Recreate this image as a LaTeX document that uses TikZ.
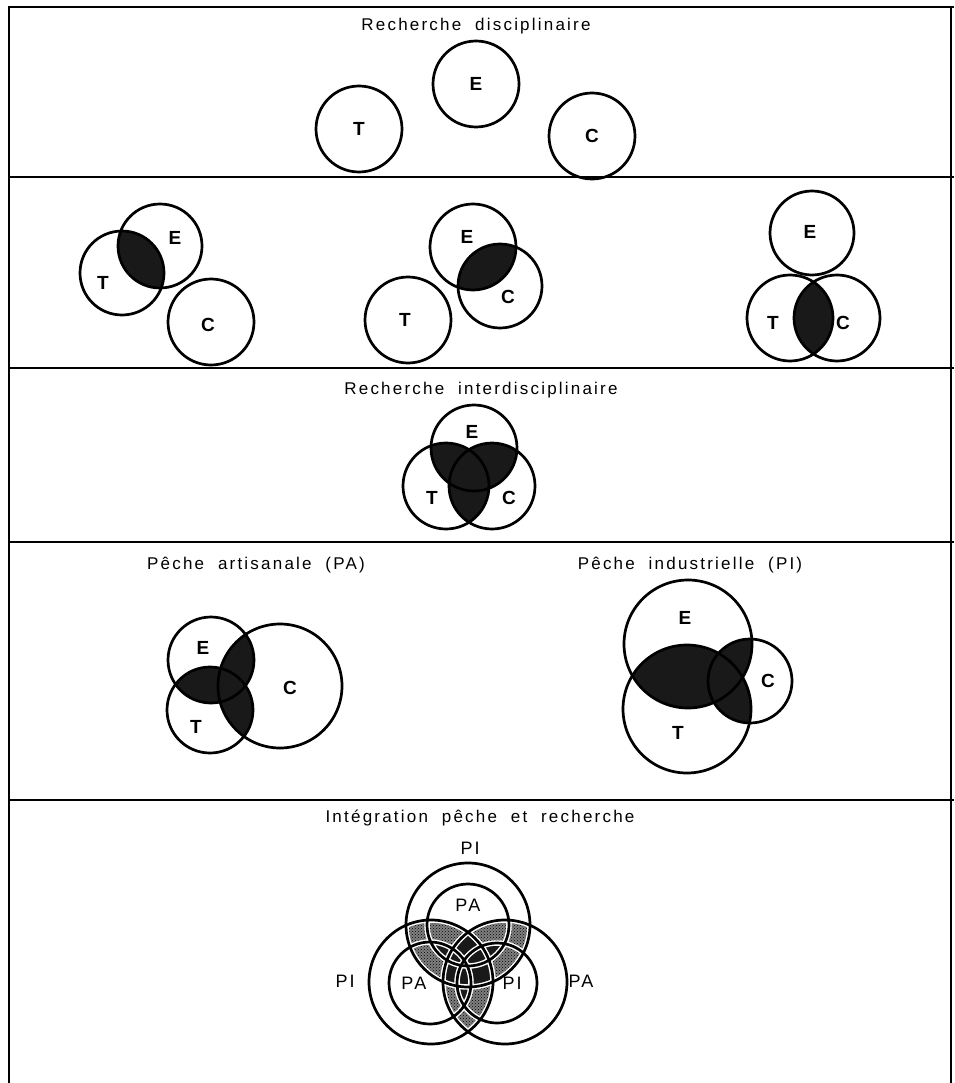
\documentclass[tikz,border=0pt]{standalone}
\usepackage{fontspec}
\setmainfont{Liberation Sans}
\newfontfamily\ttl[LetterSpace=13]{Liberation Sans}
\usetikzlibrary{patterns}
\begin{document}
\begin{tikzpicture}[x=1pt,y=-1pt,
  ring/.style={draw=black, line width=2.7pt},
  halo/.style={draw=white, line width=5.5pt},
  frame/.style={line width=2pt},
  title/.style={font=\ttl\fontsize{17}{19}\selectfont, inner sep=0pt},
  lbl/.style={font=\bfseries\fontsize{19}{21}\selectfont, inner sep=0pt},
  plbl/.style={font=\ttl\fontsize{18}{20}\selectfont, inner sep=0pt},
  dark/.style={fill=black!90},
  stip/.style={fill=black!50},
  stipdots/.style={pattern=crosshatch dots, pattern color=black}]
\useasboundingbox (0,0) rectangle (954,1083);

% ---------- frame ----------
\draw[frame] (9,1083) -- (9,7) -- (954,7);
\draw[frame] (951,7) -- (951,1083);
\draw[frame] (9,177) -- (954,177);
\draw[frame] (9,368) -- (954,368);
\draw[frame] (9,542) -- (954,542);
\draw[frame] (9,800) -- (954,800);

% ---------- panel 1 ----------
\node[title] (t1) at (476,26) {Recherche\ \ disciplinaire};
\draw[ring] (359,129) circle[radius=43pt];
\draw[ring] (476,84) circle[radius=43pt];
\draw[ring] (592,136) circle[radius=43pt];
\node[lbl] (p1T) at (359,129) {T};
\node[lbl] (p1E) at (476,84) {E};
\node[lbl] (p1C) at (592,136) {C};

% ---------- panel 2 ----------
% left group: E & T overlap
\begin{scope}\clip (160,246) circle[radius=42pt]; \fill[dark] (122,273) circle[radius=42pt];\end{scope}
\draw[ring] (160,246) circle[radius=42pt];
\draw[ring] (122,273) circle[radius=42pt];
\draw[ring] (211,322) circle[radius=43pt];
\node[lbl] (p2aE) at (175,238) {E};
\node[lbl] (p2aT) at (103,283) {T};
\node[lbl] (p2aC) at (208,325) {C};
% middle group: E & C overlap
\begin{scope}\clip (473,247) circle[radius=43pt]; \fill[dark] (500,286) circle[radius=42pt];\end{scope}
\draw[ring] (473,247) circle[radius=43pt];
\draw[ring] (500,286) circle[radius=42pt];
\draw[ring] (408,320) circle[radius=43pt];
\node[lbl] (p2bE) at (467,237) {E};
\node[lbl] (p2bC) at (508,297) {C};
\node[lbl] (p2bT) at (405,320) {T};
% right group: T & C overlap
\begin{scope}\clip (790,318) circle[radius=43pt]; \fill[dark] (837,318) circle[radius=43pt];\end{scope}
\draw[ring] (812,233) circle[radius=42pt];
\draw[ring] (790,318) circle[radius=43pt];
\draw[ring] (837,318) circle[radius=43pt];
\node[lbl] (p2cE) at (810,232) {E};
\node[lbl] (p2cT) at (773,323) {T};
\node[lbl] (p2cC) at (843,323) {C};

% ---------- panel 3 ----------
\node[title] (t3) at (481,390) {Recherche\ \ interdisciplinaire};
\begin{scope}\clip (474,448) circle[radius=43pt]; \fill[dark] (446,486) circle[radius=43pt];\end{scope}
\begin{scope}\clip (474,448) circle[radius=43pt]; \fill[dark] (492,486) circle[radius=43pt];\end{scope}
\begin{scope}\clip (446,486) circle[radius=43pt]; \fill[dark] (492,486) circle[radius=43pt];\end{scope}
\draw[ring] (474,448) circle[radius=43pt];
\draw[ring] (446,486) circle[radius=43pt];
\draw[ring] (492,486) circle[radius=43pt];
\node[lbl] (p3E) at (472,432) {E};
\node[lbl] (p3T) at (432,498) {T};
\node[lbl] (p3C) at (509,498) {C};

% ---------- panel 4 left (PA) ----------
\node[title] (t4a) at (256,565) {Pêche\ \ artisanale\ \ (PA)};
\begin{scope}\clip (211,660) circle[radius=43pt]; \fill[dark] (210,710) circle[radius=43pt];\end{scope}
\begin{scope}\clip (211,660) circle[radius=43pt]; \fill[dark] (280,686) circle[radius=62pt];\end{scope}
\begin{scope}\clip (210,710) circle[radius=43pt]; \fill[dark] (280,686) circle[radius=62pt];\end{scope}
\draw[ring] (211,660) circle[radius=43pt];
\draw[ring] (210,710) circle[radius=43pt];
\draw[ring] (280,686) circle[radius=62pt];
\node[lbl] (p4aE) at (203,648) {E};
\node[lbl] (p4aT) at (196,727) {T};
\node[lbl] (p4aC) at (290,688) {C};

% ---------- panel 4 right (PI) ----------
\node[title] (t4b) at (690,565) {Pêche\ \ industrielle\ \ (PI)};
\begin{scope}\clip (688,644) circle[radius=64pt]; \fill[dark] (687,709) circle[radius=64pt];\end{scope}
\begin{scope}\clip (688,644) circle[radius=64pt]; \fill[dark] (750,681) circle[radius=42pt];\end{scope}
\begin{scope}\clip (687,709) circle[radius=64pt]; \fill[dark] (750,681) circle[radius=42pt];\end{scope}
\draw[ring] (688,644) circle[radius=64pt];
\draw[ring] (687,709) circle[radius=64pt];
\draw[ring] (750,681) circle[radius=42pt];
\node[lbl] (p4bE) at (685,618) {E};
\node[lbl] (p4bT) at (678,733) {T};
\node[lbl] (p4bC) at (768,681) {C};

% ---------- panel 5 ----------
\node[title] (t5) at (480,818) {Intégration\ \ pêche\ \ et\ \ recherche};
% stippled: region in at least two outer circles
\foreach \a/\b in {{(468,925)}/{(431,982)}, {(468,925)}/{(505,982)}, {(431,982)}/{(505,982)}}{
  \begin{scope}\clip \a circle[radius=62pt]; \fill[stip] \b circle[radius=62pt];
    \path[stipdots] \b circle[radius=62pt];\end{scope}
}
% dark centre: region in all three outer circles, and inner overlaps
\begin{scope}
  \clip (468,925) circle[radius=62pt];
  \clip (431,982) circle[radius=62pt];
  \fill[dark] (505,982) circle[radius=62pt];
\end{scope}
\foreach \a/\ra/\b/\rb in {{(468,925)}/41/{(430,983)}/41, {(468,925)}/41/{(497,983)}/40, {(430,983)}/41/{(497,983)}/40}{
  \begin{scope}\clip \a circle[radius=\ra pt]; \fill[dark] \b circle[radius=\rb pt];\end{scope}
}
% white halos then black rings
\path[halo] (468,925) circle[radius=62pt] (431,982) circle[radius=62pt] (505,982) circle[radius=62pt]
  (468,925) circle[radius=41pt] (430,983) circle[radius=41pt] (497,983) circle[radius=40pt];
\draw[ring] (468,925) circle[radius=62pt];
\draw[ring] (431,982) circle[radius=62pt];
\draw[ring] (505,982) circle[radius=62pt];
\draw[ring] (468,925) circle[radius=41pt];
\draw[ring] (430,983) circle[radius=41pt];
\draw[ring] (497,983) circle[radius=40pt];
\node[plbl] (p5PItop) at (470,848) {P\kern2pt I};
\node[plbl] (p5PIleft) at (345,981) {P\kern2pt I};
\node[plbl] (p5PAright) at (581,981) {PA};
\node[plbl] (p5PAtop) at (468,905) {PA};
\node[plbl] (p5PAin) at (414,983) {PA};
\node[plbl] (p5PIin) at (512,983) {P\kern2pt I};
\end{tikzpicture}
\end{document}
